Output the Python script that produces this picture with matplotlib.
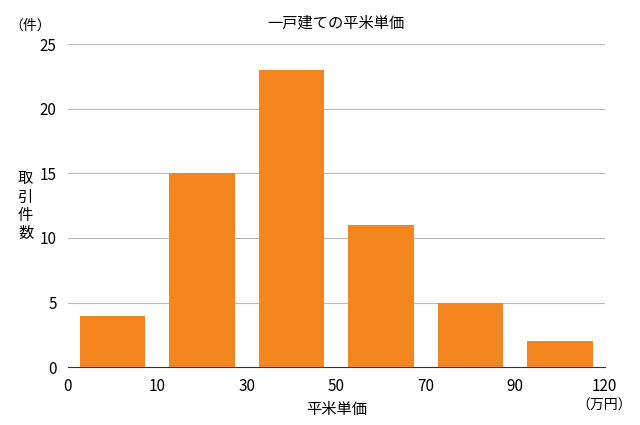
import matplotlib
matplotlib.use("Agg")
import matplotlib.pyplot as plt

plt.rcParams['font.family'] = ['Noto Sans CJK JP', 'DejaVu Sans']

edges = ["0", "10", "30", "50", "70", "90", "120"]
counts = [4, 15, 23, 11, 5, 2]
yticks = [0, 5, 10, 15, 20, 25]

fig = plt.figure(figsize=(6.4, 4.25), dpi=100)
ax = fig.add_axes([0.106, 0.136, 0.839, 0.76])
ax.bar([i + 0.5 for i in range(len(counts))], counts, width=0.73, color="#F5861F", zorder=3)
ax.set_xlim(0, 6)
ax.set_ylim(0, 25)
ax.set_yticks(yticks)
ax.set_xticks(range(len(edges)))
ax.set_xticklabels(edges)
ax.grid(axis='y', color='#bbbbbb', linewidth=0.8, zorder=0)
for s in ['left', 'right', 'top']:
    ax.spines[s].set_visible(False)
ax.spines['bottom'].set_color('#333333')
ax.tick_params(length=0, labelsize=11, pad=8)
ax.set_title("一戸建ての平米単価", fontsize=11, pad=12)
ax.set_xlabel("平米単価", fontsize=11, labelpad=4)
fig.text(0.04, 0.515, "取\n引\n件\n数", fontsize=11, ha='center', va='center', linespacing=1.1)
fig.text(0.015, 0.94, "（件）", fontsize=10, ha='left', va='center')
fig.text(0.9, 0.045, "（万円）", fontsize=10, ha='left', va='center')
fig.savefig("out.png", dpi=100)
